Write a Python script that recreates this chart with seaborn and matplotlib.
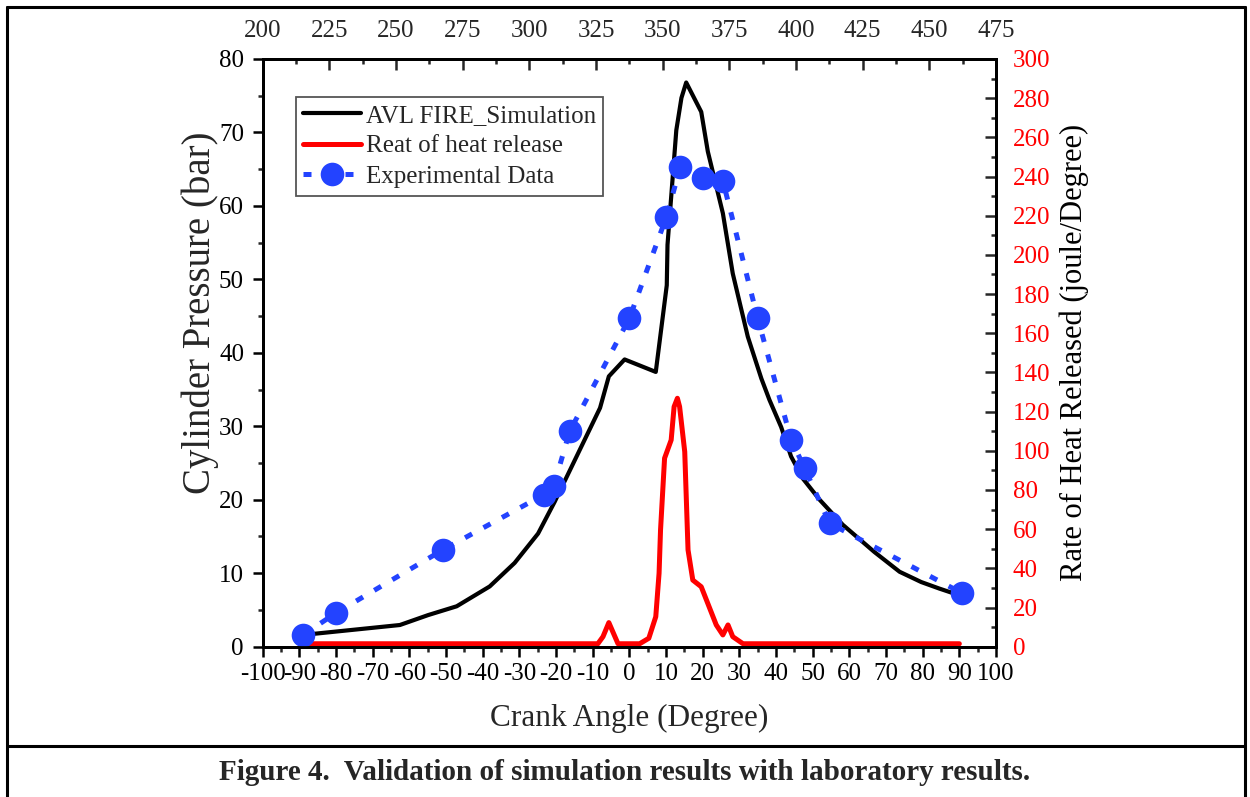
import numpy as np
import pandas as pd
import matplotlib
matplotlib.use("Agg")
import matplotlib.pyplot as plt
import seaborn as sns
from matplotlib.lines import Line2D
from matplotlib.ticker import MultipleLocator

# ---- data ----
sim_angle = [-89, -62.6, -54.9, -47.1, -38.1, -31.3, -24.9, -20.4, -8.0, -5.6, -1.3,
             7.2, 10.2, 10.4, 12.8, 14.2, 15.5, 19.6, 21.4, 25.5, 28.2, 32.3, 36.0,
             38.2, 41.4, 44.1, 47.3, 51.9, 58.2, 66.8, 73.7, 79.6, 84.6, 90.0]
sim_pressure = [1.6, 2.95, 4.3, 5.5, 8.2, 11.4, 15.4, 19.7, 32.5, 36.8, 39.1,
                37.4, 49.2, 54.7, 70.3, 74.7, 76.8, 72.8, 67.4, 59.0, 50.8, 42.2, 36.5,
                33.6, 29.9, 25.9, 22.9, 20.0, 16.6, 12.9, 10.2, 8.8, 7.9, 7.0]

exp_angle = [-89, -80, -50.8, -23.3, -20.6, -16.3, 0, 10.1, 13.9, 20.1, 25.5,
             35.0, 44.1, 47.8, 54.6, 90.7]
exp_pressure = [1.6, 4.6, 13.2, 20.7, 21.9, 29.3, 44.7, 58.5, 65.3, 63.8, 63.4,
                44.7, 28.2, 24.3, 16.8, 7.3]

hrr_angle = [-89, -8.6, -7.2, -5.6, -3.1, 2.8, 5.3, 7.2, 8.1, 8.5, 9.6, 11.4, 12.2,
             13.1, 13.7, 15.1, 16.0, 17.3, 19.6, 23.7, 25.5, 26.9, 28.2, 31.0, 90]
hrr = [1.5, 1.5, 5.1, 12.3, 1.5, 1.5, 4.3, 15.3, 37.5, 59.6, 96.2, 105.5, 122.5,
       126.8, 122.5, 99.5, 49.4, 34.0, 30.6, 11.1, 6.0, 11.1, 5.1, 1.5, 1.5]

bottom_ticks = list(range(-100, 101, 10))
top_ticks = list(range(200, 476, 25))
right_ticks = list(range(0, 301, 20))

BLUE = "#2343ff"
DASH = (0, (1.6, 2.6))

# ---- style ----
sns.set_style("ticks")
plt.rcParams["font.family"] = ["Liberation Serif", "DejaVu Serif"]
plt.rcParams["axes.linewidth"] = 2.0

fig = plt.figure(figsize=(12.5, 7.97), dpi=100)
ax = fig.add_axes([0.2102, 0.1886, 0.5866, 0.7374])

# simulation + experiment on the left axis
sns.lineplot(x=sim_angle, y=sim_pressure, ax=ax, color="black", lw=3.0,
             sort=False, estimator=None)
sns.lineplot(x=exp_angle, y=exp_pressure, ax=ax, color=BLUE, lw=3.6,
             linestyle=DASH, marker="o", markersize=17,
             markeredgewidth=0, sort=False, estimator=None)

# heat release on the right axis
ax_r = ax.twinx()
sns.lineplot(x=hrr_angle, y=hrr, ax=ax_r, color="red", lw=3.6,
             sort=False, estimator=None)

ax.set_xlim(-100, 100)
ax.set_ylim(0, 80)
ax_r.set_ylim(0, 300)

ax.set_xticks(bottom_ticks)
ax.set_xticklabels([str(t) for t in bottom_ticks])
ax.xaxis.set_minor_locator(MultipleLocator(5))
ax.yaxis.set_major_locator(MultipleLocator(10))
ax.yaxis.set_minor_locator(MultipleLocator(5))
ax.tick_params(axis="both", which="major", direction="out", length=7.5, width=1.8,
               labelsize=18, colors="black")
ax.tick_params(axis="both", which="minor", direction="out", length=3.8, width=1.8)
ax.tick_params(axis="x", pad=4)
ax.tick_params(axis="y", pad=6)

ax_r.set_yticks(right_ticks)
ax_r.yaxis.set_minor_locator(MultipleLocator(10))
ax_r.tick_params(axis="y", which="major", direction="in", length=8, width=1.8,
                 labelsize=18, labelcolor="red", pad=12)
ax_r.tick_params(axis="y", which="minor", direction="in", length=3.8, width=1.8)

# top axis
ax_t = ax.twiny()
ax_t.set_xlim(200, 475)
ax_t.set_xticks(top_ticks)
ax_t.xaxis.set_minor_locator(MultipleLocator(12.5))
ax_t.tick_params(axis="x", which="major", direction="in", length=8, width=1.8,
                 labelsize=18, pad=12)
ax_t.tick_params(axis="x", which="minor", direction="in", length=3.8, width=1.8)

for a in (ax, ax_r, ax_t):
    for s in a.spines.values():
        s.set_visible(True)
        s.set_linewidth(2.0)
        s.set_color("black")

ax.set_xlabel("Crank Angle (Degree)", fontsize=22.5)
ax.set_ylabel("Cylinder Pressure (bar)", fontsize=28)
ax_r.set_ylabel("Rate of Heat Released (joule/Degree)", fontsize=22, color="black")
ax.xaxis.set_label_coords(0.5, -0.098)
ax.yaxis.set_label_coords(-0.0596, 0.568)
ax_r.yaxis.set_label_coords(1.087, 0.5)

# legend
handles = [
    Line2D([], [], color="black", lw=3.0),
    Line2D([], [], color="red", lw=3.6),
    Line2D([], [], color=BLUE, lw=3.6, linestyle=DASH, marker="o",
           markersize=17, markeredgewidth=0),
]
labels = ["AVL FIRE_Simulation", "Reat of heat release", "Experimental Data"]
leg = ax.legend(handles, labels, loc="upper left", bbox_to_anchor=(0.045, 0.936),
                borderaxespad=0, fontsize=18, frameon=True, fancybox=False,
                handlelength=2.3, handletextpad=0.2, labelspacing=0.33,
                borderpad=0.3, numpoints=1)
leg.get_frame().set_edgecolor("#555555")
leg.get_frame().set_linewidth(1.3)
leg.get_frame().set_alpha(1)
ax_t.set_zorder(0)
ax.set_zorder(2)
ax.patch.set_visible(False)

# caption and page frame
fig.text(0.5, 1 - 773 / 797, "Figure 4.  Validation of simulation results with laboratory results.",
         ha="center", va="center", fontsize=21, fontweight="bold")
W, H = 1250, 797
frame = [((7 / W, 7 / W), (0, 1 - 7 / H)),
         ((1245 / W, 1245 / W), (0, 1 - 7 / H)),
         ((7 / W, 1245 / W), (1 - 7 / H, 1 - 7 / H)),
         ((7 / W, 1245 / W), (1 - 746 / H, 1 - 746 / H))]
for xs, ys in frame:
    fig.add_artist(Line2D(xs, ys, color="black", lw=2.2, transform=fig.transFigure))

fig.savefig("out.png", dpi=100)
